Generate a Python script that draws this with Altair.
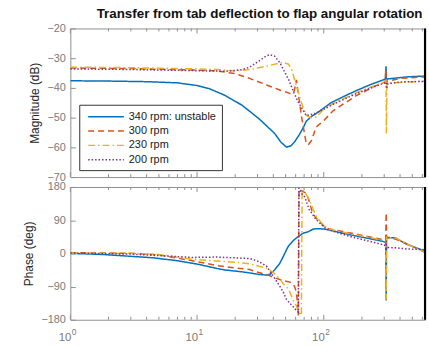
import altair as alt
import pandas as pd

# Series styling (MATLAB default line colours)
SERIES = ["340 rpm: unstable", "300 rpm", "230 rpm", "200 rpm"]
COLORS = ["#0072BD", "#D95319", "#EDB120", "#7E2F8E"]
DASHES = [[1, 0], [6, 4], [7, 3, 1.5, 3], [1.5, 2]]
WIDTHS = [1.5, 1.5, 1.5, 1.2]

FONT = "Liberation Sans"
BOX = "#8f8f8f"
LABEL_GRAY = "#7a7a7a"
F_MAX = 630

# ---- magnitude (dB) vs frequency (rad/s) ----
f_mag_340 = [1, 2, 4, 7, 10, 12.4, 16.6, 22.6, 30.7, 40.9, 46, 50.8, 55, 58.7, 64, 69, 72.8,
             80, 90, 100, 114, 150, 179, 230, 290, 306, 310, 312, 316, 368, 450, 630]
mag_340 = [-37.6, -37.7, -37.9, -38.3, -39.2, -40.2, -42.5, -45.8, -50.3, -55.3, -58.3, -59.9,
           -59.5, -58.2, -55.8, -53.3, -51.2, -49.6, -48.2, -46.8, -45.0, -42.5, -41.0, -39.0,
           -37.4, -37.0, -32.7, -37.8, -37.0, -36.7, -36.3, -36.0]

f_mag_300 = [1, 3, 10, 14.4, 20, 26, 35.4, 45, 52, 55.6, 58.5, 60.8, 63, 67, 72.8, 76, 80, 87,
             100, 118.5, 179, 250, 305, 310, 312, 316, 400, 630]
mag_300 = [-33.3, -33.5, -34.0, -34.3, -35.2, -36.8, -39.0, -40.7, -41.6, -42.1, -41.0, -37.3,
           -42.0, -50.0, -58.8, -59.0, -57.7, -53.2, -51.0, -47.7, -42.7, -39.5, -38.0, -33.5,
           -38.6, -37.8, -36.8, -36.3]

f_mag_230 = [1, 3, 10, 14.4, 19.6, 26, 30.7, 35.4, 44.8, 48, 52.7, 56, 58.7, 63, 66.6, 72.8,
             79.7, 87, 100.7, 118.5, 179, 290, 305, 310, 312, 315, 368, 630]
mag_230 = [-33.0, -33.2, -33.6, -33.8, -34.3, -33.8, -33.2, -32.7, -31.6, -31.5, -32.0, -34.0,
           -37.0, -41.5, -44.9, -49.3, -50.0, -49.8, -47.0, -45.3, -41.7, -38.2, -37.8, -37.5,
           -55.3, -38.5, -38.3, -37.7]

f_mag_200 = [1, 3, 10, 16.6, 22.6, 26, 30.7, 35, 37.4, 40.9, 45, 52.7, 58, 63.1, 72.8, 84,
             100, 118.5, 179, 290, 305, 311, 313, 320, 400, 630]
mag_200 = [-33.6, -33.8, -34.2, -34.4, -33.9, -33.0, -31.0, -29.3, -28.8, -29.3, -31.5, -37.1,
           -41.5, -44.9, -49.3, -48.7, -47.2, -45.5, -42.0, -38.6, -38.3, -38.0, -40.3, -38.6,
           -38.0, -37.8]

# ---- phase (deg) vs frequency (rad/s) ----
f_ph_340 = [1, 1.8, 3, 4.5, 7, 10, 14.4, 16.6, 22.6, 26, 30.7, 35.4, 38, 40.9, 44.8, 48, 50.8,
            52.7, 58, 63, 69, 72.8, 76, 82.6, 90, 100, 108, 158, 290, 308, 311, 313, 320, 368,
            450, 630]
ph_340 = [0, -3, -8, -12, -20, -29, -41, -45, -50, -53, -57, -59, -56, -45, -28, -8, 10, 20,
          36, 46, 55, 57, 59, 66, 67, 66, 64, 51, 33, 30, -128, 45, 43, 42, 25, 6]

f_ph_300 = [1, 3, 5, 9.2, 14.4, 16.6, 26, 30.7, 35.4, 40, 48, 55.6, 58.7, 60.8, 62, 63, 63.8,
            66.6, 72.8, 77, 81.6, 87.3, 92.5, 104.5, 158, 290, 308, 311, 313, 320, 368, 450, 630]
ph_300 = [2, 0, -4, -20, -33, -36, -44, -52, -57, -65, -74, -79, -89, -105, -135, -168, 174,
          170, 163, 140, 109, 95, 86, 68, 56, 37.5, 34, 110, 44, 42, 39, 26, 3]

f_ph_230 = [1, 3, 5, 9.2, 14.4, 20, 26, 30.7, 35.4, 40, 44.8, 48, 52.7, 57.6, 60.8, 63.1, 66.6,
            67.5, 70.7, 77, 87.3, 98.3, 110, 158, 290, 308, 311, 313, 320, 368, 450, 630]
ph_230 = [1, 0, -3, -16, -21, -24, -28, -35, -40, -52, -68, -83, -97, -128, -142, -158, -168,
          172, 167, 145, 100, 78, 66, 54, 36, 33, -125, 44, 43, 42, 26, 4]

f_ph_200 = [1, 3, 9.2, 14.4, 16.6, 22.6, 26, 30.7, 35.4, 40, 44.8, 48, 50.8, 55, 58.7, 60.8,
            63, 63.6, 66.6, 70.7, 77, 87.3, 104.5, 158, 290, 308, 311, 313, 320, 368, 450, 630]
ph_200 = [1, -2, -11, -10, -11, -13, -14, -22, -35, -62, -88, -105, -125, -138, -148, -155,
          -160, 177, 163, 153, 118, 91, 66, 46.5, 24, 21, 35, 12, 16, 15, 12, 10]

# black vertical marker at the right end of the frequency range
marker_f = [F_MAX]

# frequency-axis ticks (log decades); labels are drawn as base "10" plus exponent
X_MAJOR = [1, 10, 100]
X_MAJOR_BASE = ["10", "10", "10"]
X_MAJOR_EXP = ["0", "1", "2"]
X_MINOR = [2, 3, 4, 5, 6, 7, 8, 9, 20, 30, 40, 50, 60, 70, 80, 90, 200, 300, 400, 500, 600]
MAG_TICKS = [-70, -60, -50, -40, -30, -20]
PH_TICKS = [-180, -90, 0, 90, 180]


def frame(pairs):
    rows = []
    for name, fs, vs in pairs:
        for f, v in zip(fs, vs):
            rows.append({"series": name, "f": f, "v": v})
    return pd.DataFrame(rows)


mag_df = frame([(SERIES[0], f_mag_340, mag_340), (SERIES[1], f_mag_300, mag_300),
                (SERIES[2], f_mag_230, mag_230), (SERIES[3], f_mag_200, mag_200)])
ph_df = frame([(SERIES[0], f_ph_340, ph_340), (SERIES[1], f_ph_300, ph_300),
               (SERIES[2], f_ph_230, ph_230), (SERIES[3], f_ph_200, ph_200)])
marker_df = pd.DataFrame({"f": marker_f})
major_df = pd.DataFrame({"f": X_MAJOR, "base": X_MAJOR_BASE, "exp": X_MAJOR_EXP})
minor_df = pd.DataFrame({"f": X_MINOR})

x_scale = alt.Scale(type="log", domain=[1, F_MAX], nice=False)


def legend_def():
    return alt.Legend(orient="none", legendX=9, legendY=77, title=None,
                      symbolType="M-1,0H5", symbolSize=144, symbolStrokeWidth=1.5,
                      labelFont=FONT, labelFontSize=11, labelColor="#1a1a1a",
                      labelOffset=28, fillColor="white", strokeColor="#333333",
                      padding=5, rowPadding=2.5, symbolOffset=3, labelLimit=200)


def tick_marks(df, y0, y1):
    # short inward tick marks on the frequency scale
    return alt.Chart(df).mark_rule(color=BOX, strokeWidth=1).encode(
        x=alt.X("f:Q", scale=x_scale, axis=None),
        y=alt.value(y0),
        y2=alt.value(y1),
    )


def decade_labels(height):
    base = alt.Chart(major_df).mark_text(font=FONT, fontSize=11.5, color=LABEL_GRAY,
                                         baseline="alphabetic", align="right", dx=1).encode(
        x=alt.X("f:Q", scale=x_scale, axis=None),
        y=alt.value(height + 21),
        text="base:N",
    )
    exp = alt.Chart(major_df).mark_text(font=FONT, fontSize=8.5, color=LABEL_GRAY,
                                        baseline="alphabetic", align="left", dx=1.5,
                                        dy=-6).encode(
        x=alt.X("f:Q", scale=x_scale, axis=None),
        y=alt.value(height + 21),
        text="exp:N",
    )
    return [base, exp]


def panel(df, ydomain, yticks, ytitle, height, show_legend, show_xlabels, title=None):
    leg = legend_def() if show_legend else None
    lines = alt.Chart(df).mark_line(clip=True).encode(
        x=alt.X("f:Q", scale=x_scale, axis=None),
        y=alt.Y("v:Q", scale=alt.Scale(domain=ydomain, nice=False, zero=False),
                axis=alt.Axis(values=yticks, tickSize=5, offset=-5, domain=False, grid=False,
                              title=ytitle, labelPadding=5, titlePadding=5, tickColor=BOX)),
        color=alt.Color("series:N", scale=alt.Scale(domain=SERIES, range=COLORS), legend=leg),
        strokeDash=alt.StrokeDash("series:N", scale=alt.Scale(domain=SERIES, range=DASHES),
                                  legend=leg),
        strokeWidth=alt.StrokeWidth("series:N", scale=alt.Scale(domain=SERIES, range=WIDTHS),
                                    legend=None),
    )
    layers = [
        lines,
        tick_marks(major_df, 0, 5),
        tick_marks(minor_df, 0, 3),
        tick_marks(major_df, height - 5, height),
        tick_marks(minor_df, height - 3, height),
        alt.Chart(marker_df).mark_rule(color="black", strokeWidth=2.2).encode(
            x=alt.X("f:Q", scale=x_scale, axis=None)),
    ]
    if show_xlabels:
        layers.extend(decade_labels(height))
    props = dict(width=358, height=height)
    if title is not None:
        props["title"] = title
    return alt.layer(*layers).properties(**props)


title = alt.TitleParams("Transfer from tab deflection to flap angular rotation", font=FONT,
                        fontSize=13.5, fontWeight="bold", color="#111111", anchor="middle",
                        dx=12, offset=2)

top = panel(mag_df, [-70, -20], MAG_TICKS, "Magnitude (dB)", 150, True, False, title)
bottom = panel(ph_df, [-180, 180], PH_TICKS, "Phase (deg)", 134, False, True)

chart = alt.vconcat(top, bottom, spacing=10, bounds="flush").resolve_legend(
    color="independent", strokeDash="independent"
).properties(
    padding={"left": 22, "top": 5, "right": 2, "bottom": 26},
    background="white",
).configure_view(
    stroke=BOX, strokeWidth=1
).configure_axis(
    labelFont=FONT, labelFontSize=11, labelColor=LABEL_GRAY,
    titleFont=FONT, titleFontSize=12, titleColor="#262626", titleFontWeight="normal"
)

chart.save("out.html", embed_options={"renderer": "svg", "actions": False})
